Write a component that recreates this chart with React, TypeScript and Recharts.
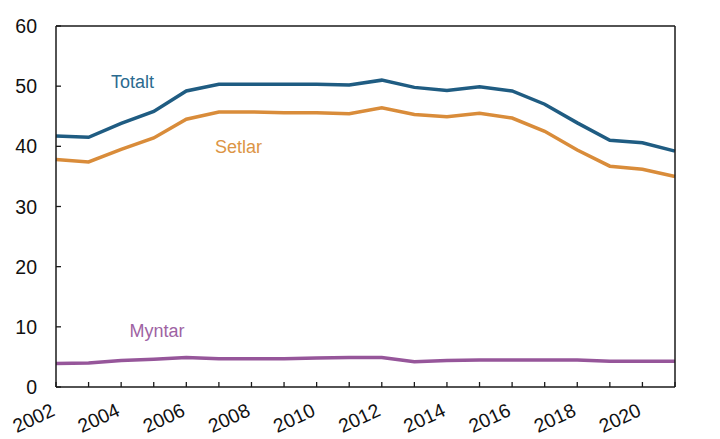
import React from 'react';
import { LineChart, Line, XAxis, YAxis, ReferenceLine, ReferenceDot } from 'recharts';

const years = [2002, 2003, 2004, 2005, 2006, 2007, 2008, 2009, 2010, 2011, 2012, 2013, 2014, 2015, 2016, 2017, 2018, 2019, 2020, 2021];
const totalt = [41.7, 41.5, 43.8, 45.8, 49.2, 50.3, 50.3, 50.3, 50.3, 50.2, 51.0, 49.8, 49.3, 49.9, 49.2, 47.0, 43.9, 41.0, 40.6, 39.2];
const setlar = [37.8, 37.4, 39.5, 41.4, 44.5, 45.7, 45.7, 45.6, 45.6, 45.4, 46.4, 45.3, 44.9, 45.5, 44.7, 42.5, 39.4, 36.7, 36.2, 35.0];
const myntar = [3.9, 4.0, 4.4, 4.6, 4.9, 4.7, 4.7, 4.7, 4.8, 4.9, 4.9, 4.2, 4.4, 4.5, 4.5, 4.5, 4.5, 4.3, 4.3, 4.3];
const yTicks = [0, 10, 20, 30, 40, 50, 60];

const data = years.map((y, i) => ({ year: y, totalt: totalt[i], setlar: setlar[i], myntar: myntar[i] }));

const FONT = '"Liberation Sans", Arial, sans-serif';
const AXIS = '#1a1a1a';
const BLUE = '#1f5c82';
const ORANGE = '#d98c3a';
const PURPLE = '#96569a';

const XTick = (props: any) => {
  const { x, y, payload } = props;
  const v = payload.value;
  return (
    <g>
      <line x1={x} x2={x} y1={y} y2={y - 5} stroke={AXIS} strokeWidth={1.3} />
      {v % 2 === 0 ? (
        <text x={x} y={y + 28} textAnchor="end" fontSize={19.5} fontFamily={FONT} fill="#111" transform={`rotate(-25 ${x} ${y + 28})`}>
          {v}
        </text>
      ) : null}
    </g>
  );
};

const LeftTick = (props: any) => {
  const { x, y, payload } = props;
  return (
    <g>
      <line x1={x} x2={x + 5} y1={y} y2={y} stroke={AXIS} strokeWidth={1.3} />
      <text x={x - 19} y={y + 7} textAnchor="end" fontSize={19.5} fontFamily={FONT} fill="#111">{payload.value}</text>
    </g>
  );
};

const RightTick = (props: any) => {
  const { x, y, payload } = props;
  return (
    <g>
      <line x1={x} x2={x - 5} y1={y} y2={y} stroke={AXIS} strokeWidth={1.3} />
      <text x={x + 18} y={y + 7} textAnchor="start" fontSize={19.5} fontFamily={FONT} fill="#111">{payload.value}</text>
    </g>
  );
};

export default function App() {
  return (
    <div style={{ position: 'absolute', left: 0, top: 0, width: 720, height: 439, background: '#fff' }}>
      <LineChart width={720} height={439} data={data} margin={{ top: 26, right: 0, bottom: 0, left: 0 }}>
        <XAxis dataKey="year" type="number" domain={[2002, 2021]} ticks={years} interval={0} height={52}
          tickSize={0} tickMargin={0} tickLine={false} axisLine={{ stroke: AXIS, strokeWidth: 1.5 }} tick={<XTick />} />
        <YAxis yAxisId="l" orientation="left" domain={[0, 60]} ticks={yTicks} width={56} interval={0}
          tickSize={0} tickMargin={0} tickLine={false} axisLine={{ stroke: AXIS, strokeWidth: 1.5 }} tick={<LeftTick />} />
        <YAxis yAxisId="r" orientation="right" domain={[0, 60]} ticks={yTicks} width={45} interval={0}
          tickSize={0} tickMargin={0} tickLine={false} axisLine={{ stroke: AXIS, strokeWidth: 1.5 }} tick={<RightTick />} />
        <ReferenceLine yAxisId="l" y={60} stroke={AXIS} strokeWidth={1.5} />
        <Line yAxisId="l" dataKey="totalt" stroke={BLUE} strokeWidth={3.5} dot={false} isAnimationActive={false} />
        <Line yAxisId="l" dataKey="setlar" stroke={ORANGE} strokeWidth={3.5} dot={false} isAnimationActive={false} />
        <Line yAxisId="l" dataKey="myntar" stroke={PURPLE} strokeWidth={3.5} dot={false} isAnimationActive={false} />
        <ReferenceDot yAxisId="l" x={2004.35} y={50.7} r={0} stroke="none" fill="none"
          label={{ value: 'Totalt', position: 'center', fill: '#2b6a8f', fontSize: 18, fontFamily: FONT }} />
        <ReferenceDot yAxisId="l" x={2007.6} y={39.9} r={0} stroke="none" fill="none"
          label={{ value: 'Setlar', position: 'center', fill: '#dc9545', fontSize: 18, fontFamily: FONT }} />
        <ReferenceDot yAxisId="l" x={2005.1} y={9.3} r={0} stroke="none" fill="none"
          label={{ value: 'Myntar', position: 'center', fill: '#9e63a3', fontSize: 18, fontFamily: FONT }} />
      </LineChart>
    </div>
  );
}
